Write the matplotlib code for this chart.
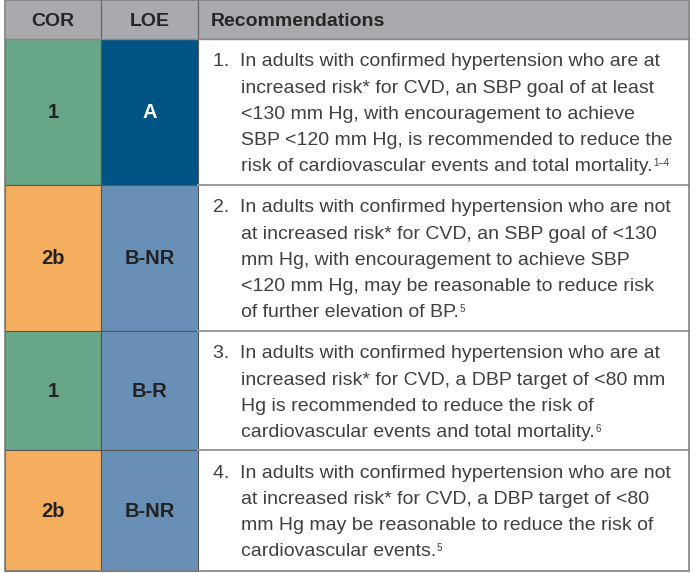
import matplotlib
matplotlib.use("Agg")
import matplotlib.pyplot as plt
from matplotlib.patches import Rectangle

# ---- data ----
headers = ["COR", "LOE", "Recommendations"]
cor = ["1", "2b", "1", "2b"]
loe = ["A", "B-NR", "B-R", "B-NR"]
rec_lines = [
    ["1.  In adults with confirmed hypertension who are at",
     "increased risk* for CVD, an SBP goal of at least",
     "<130 mm Hg, with encouragement to achieve",
     "SBP <120 mm Hg, is recommended to reduce the",
     "risk of cardiovascular events and total mortality."],
    ["2.  In adults with confirmed hypertension who are not",
     "at increased risk* for CVD, an SBP goal of <130",
     "mm Hg, with encouragement to achieve SBP",
     "<120 mm Hg, may be reasonable to reduce risk",
     "of further elevation of BP."],
    ["3.  In adults with confirmed hypertension who are at",
     "increased risk* for CVD, a DBP target of <80 mm",
     "Hg is recommended to reduce the risk of",
     "cardiovascular events and total mortality."],
    ["4.  In adults with confirmed hypertension who are not",
     "at increased risk* for CVD, a DBP target of <80",
     "mm Hg may be reasonable to reduce the risk of",
     "cardiovascular events."],
]
refs = ["1\u20134", "5", "6", "5"]

# ---- style / layout ----
cor_colors = {"1": "#67a686", "2b": "#f5ae5d"}
loe_colors = {"A": "#005385", "B-NR": "#6890b6", "B-R": "#6890b6"}
loe_text = {"A": "white", "B-NR": "#222222", "B-R": "#222222"}
header_color = "#a9aaad"
col_x = [5, 101, 198, 689]
row_y = [0, 39, 185, 331, 450, 571]
line_h = 26.2
W, H = 698, 573

fig = plt.figure(figsize=(W / 100, H / 100), dpi=100)
ax = fig.add_axes([0, 0, 1, 1])
ax.set_xlim(0, W)
ax.set_ylim(H, 0)
ax.axis("off")
fig.patch.set_facecolor("white")

font = "Liberation Sans"
hfs = 14
cfs = 14.5
tfs = 14.0
tcol = "#404040"

# header
ax.add_patch(Rectangle((col_x[0], row_y[0]), col_x[3] - col_x[0], row_y[1] - row_y[0],
                       facecolor=header_color, edgecolor="none", zorder=1))
hy = (row_y[0] + row_y[1]) / 2 + 1.5
ax.text((col_x[0] + col_x[1]) / 2, hy, headers[0], ha="center", va="center",
        fontsize=hfs, fontweight="bold", color="#262626", family=font)
ax.text((col_x[1] + col_x[2]) / 2, hy, headers[1], ha="center", va="center",
        fontsize=hfs, fontweight="bold", color="#262626", family=font)
ax.text(col_x[2] + 13, hy, headers[2], ha="left", va="center",
        fontsize=hfs, fontweight="bold", color="#262626", family=font)

for i in range(len(cor)):
    y0, y1 = row_y[i + 1], row_y[i + 2]
    ym = (y0 + y1) / 2 + 1
    ax.add_patch(Rectangle((col_x[0], y0), col_x[1] - col_x[0], y1 - y0,
                           facecolor=cor_colors[cor[i]], edgecolor="#555555",
                           linewidth=0.8, zorder=2))
    ax.add_patch(Rectangle((col_x[1], y0), col_x[2] - col_x[1], y1 - y0,
                           facecolor=loe_colors[loe[i]], edgecolor="#555555",
                           linewidth=0.8, zorder=2))
    ax.text((col_x[0] + col_x[1]) / 2, ym, cor[i], ha="center", va="center",
            fontsize=cfs, fontweight="bold", color="#222222", family=font, zorder=3)
    ax.text((col_x[1] + col_x[2]) / 2, ym, loe[i], ha="center", va="center",
            fontsize=cfs, fontweight="bold", color=loe_text[loe[i]], family=font, zorder=3)
    # recommendation text
    last = None
    for j, line in enumerate(rec_lines[i]):
        x = col_x[2] + 15 if j == 0 else col_x[2] + 43
        last = ax.text(x, y0 + 23 + j * line_h, line, ha="left", va="center",
                       fontsize=tfs, color=tcol, family=font, zorder=3)
    ax.annotate(refs[i], xy=(1.0, 1.0), xycoords=last, xytext=(0.3, 0),
                textcoords="offset points", ha="left", va="top",
                fontsize=7, color=tcol, family=font, zorder=3)

# horizontal separators in recommendations column
for y in row_y[1:-1]:
    ax.plot([col_x[2], col_x[3]], [y, y], color="#9a9a9a", linewidth=1.4, zorder=4)
# column separators in header
for x in col_x[1:3]:
    ax.plot([x, x], [row_y[0], row_y[1]], color="#666666", linewidth=0.9, zorder=4)
ax.plot([col_x[0], col_x[3]], [row_y[1], row_y[1]], color="#8a8a8a", linewidth=1.0, zorder=4)
# outer border
ax.add_patch(Rectangle((col_x[0], row_y[0]), col_x[3] - col_x[0], row_y[-1] - row_y[0],
                       facecolor="none", edgecolor="#808080", linewidth=1.2, zorder=5))

fig.savefig("out.png", dpi=100, facecolor="white")
